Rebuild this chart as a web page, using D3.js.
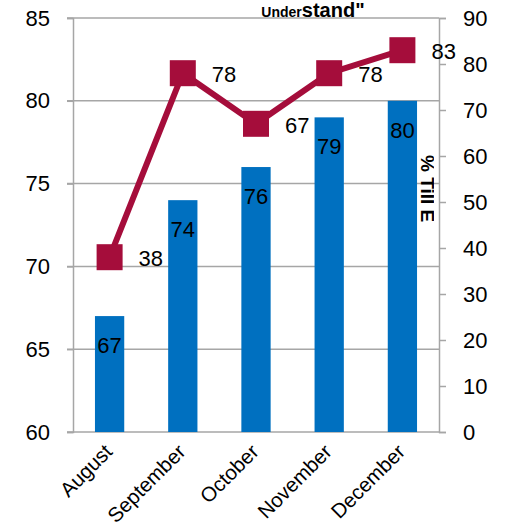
<!DOCTYPE html>
<html>
<head>
<meta charset="utf-8">
<script src="https://cdn.jsdelivr.net/npm/d3@7"></script>
<style>
  html, body { margin: 0; padding: 0; background: #fff; }
  svg { display: block; font-family: "Liberation Sans", Arial, sans-serif; }
</style>
</head>
<body>
<svg id="chart" width="506" height="532"></svg>
<script>
// Monthly data
const months = ["August", "September", "October", "November", "December"];
const barValues = [67, 74, 76, 79, 80];      // left axis (60–85)
const lineValues = [38, 78, 67, 78, 83];     // right axis (0–90)
const leftTicks = [60, 65, 70, 75, 80, 85];
const rightTicks = [0, 10, 20, 30, 40, 50, 60, 70, 80, 90];

const svg = d3.select("#chart");
const m = { left: 73, right: 439, top: 18, bottom: 432 };

const x = d3.scaleBand().domain(months).range([m.left, m.right]).paddingInner(0.6).paddingOuter(0.3);
const xc = d => x(d) + x.bandwidth() / 2;
const yL = d3.scaleLinear().domain([60, 85]).range([m.bottom, m.top]);
const yR = d3.scaleLinear().domain([0, 90]).range([m.bottom, m.top]);

const gridColor = "#a6a6a6";

// Horizontal gridlines (with left tick stubs)
svg.append("g").selectAll("line").data(leftTicks).join("line")
  .attr("x1", m.left - 6).attr("x2", m.right)
  .attr("y1", d => yL(d)).attr("y2", d => yL(d))
  .attr("stroke", gridColor).attr("stroke-width", 1.5);

// Left axis
const leftAxis = svg.append("g").attr("transform", `translate(${m.left},0)`)
  .call(d3.axisLeft(yL).tickValues(leftTicks).tickSize(6).tickPadding(17));
leftAxis.select(".domain").attr("stroke", gridColor).attr("stroke-width", 1.5);
leftAxis.selectAll(".tick line").attr("stroke", gridColor).attr("stroke-width", 1.5);
leftAxis.selectAll("text").attr("font-size", 22).attr("fill", "#000")
  .attr("font-family", "Liberation Sans, Arial, sans-serif");

// Right axis
const rightAxis = svg.append("g").attr("transform", `translate(${m.right},0)`)
  .call(d3.axisRight(yR).tickValues(rightTicks).tickSize(7).tickPadding(17));
rightAxis.select(".domain").attr("stroke", gridColor).attr("stroke-width", 1.5);
rightAxis.selectAll(".tick line").attr("stroke", gridColor).attr("stroke-width", 1.5);
rightAxis.selectAll("text").attr("font-size", 22).attr("fill", "#000")
  .attr("font-family", "Liberation Sans, Arial, sans-serif");

// Right-hand axis title, rotated and mostly hidden behind the bars
svg.append("defs").append("clipPath").attr("id", "rclip")
  .append("rect").attr("x", 420).attr("y", 140).attr("width", 14).attr("height", 100);
svg.append("g").attr("clip-path", "url(#rclip)")
  .append("text")
  .attr("transform", "translate(421,155) rotate(90)")
  .attr("font-size", 19).attr("font-weight", "bold").attr("fill", "#000")
  .text("% Till E");

// Bars
svg.append("g").selectAll("rect").data(months).join("rect")
  .attr("x", d => x(d)).attr("width", x.bandwidth())
  .attr("y", (d, i) => yL(barValues[i]))
  .attr("height", (d, i) => m.bottom - yL(barValues[i]))
  .attr("fill", "#0070c0");

// Bar value labels
svg.append("g").selectAll("text").data(months).join("text")
  .attr("x", d => xc(d)).attr("y", (d, i) => yL(barValues[i]) + 37)
  .attr("text-anchor", "middle").attr("font-size", 22).attr("fill", "#000")
  .text((d, i) => barValues[i]);

// Line series
const lineColor = "#a50d3b";
const line = d3.line().x((d, i) => xc(months[i])).y(d => yR(d));
svg.append("path").datum(lineValues)
  .attr("d", line).attr("fill", "none")
  .attr("stroke", lineColor).attr("stroke-width", 6).attr("stroke-linejoin", "miter");

const ms = 26;
svg.append("g").selectAll("rect").data(lineValues).join("rect")
  .attr("x", (d, i) => xc(months[i]) - ms / 2).attr("y", d => yR(d) - ms / 2)
  .attr("width", ms).attr("height", ms).attr("fill", lineColor);

// Line value labels
svg.append("g").selectAll("text").data(lineValues).join("text")
  .attr("x", (d, i) => xc(months[i]) + 29).attr("y", d => yR(d) + 9)
  .attr("font-size", 22).attr("fill", "#000")
  .text(d => d);

// Month labels, rotated
svg.append("g").selectAll("text").data(months).join("text")
  .attr("transform", d => `translate(${xc(d) + 4},${m.bottom + 21}) rotate(-45)`)
  .attr("text-anchor", "end").attr("font-size", 20.5).attr("fill", "#000")
  .text(d => d);

// Title (partially above the visible area)
const title = svg.append("text").attr("x", 313).attr("y", 17)
  .attr("text-anchor", "middle").attr("font-weight", "bold").attr("fill", "#000");
title.append("tspan").attr("font-size", 14).text("Under");
title.append("tspan").attr("font-size", 20).text("stand\"");
</script>
</body>
</html>
